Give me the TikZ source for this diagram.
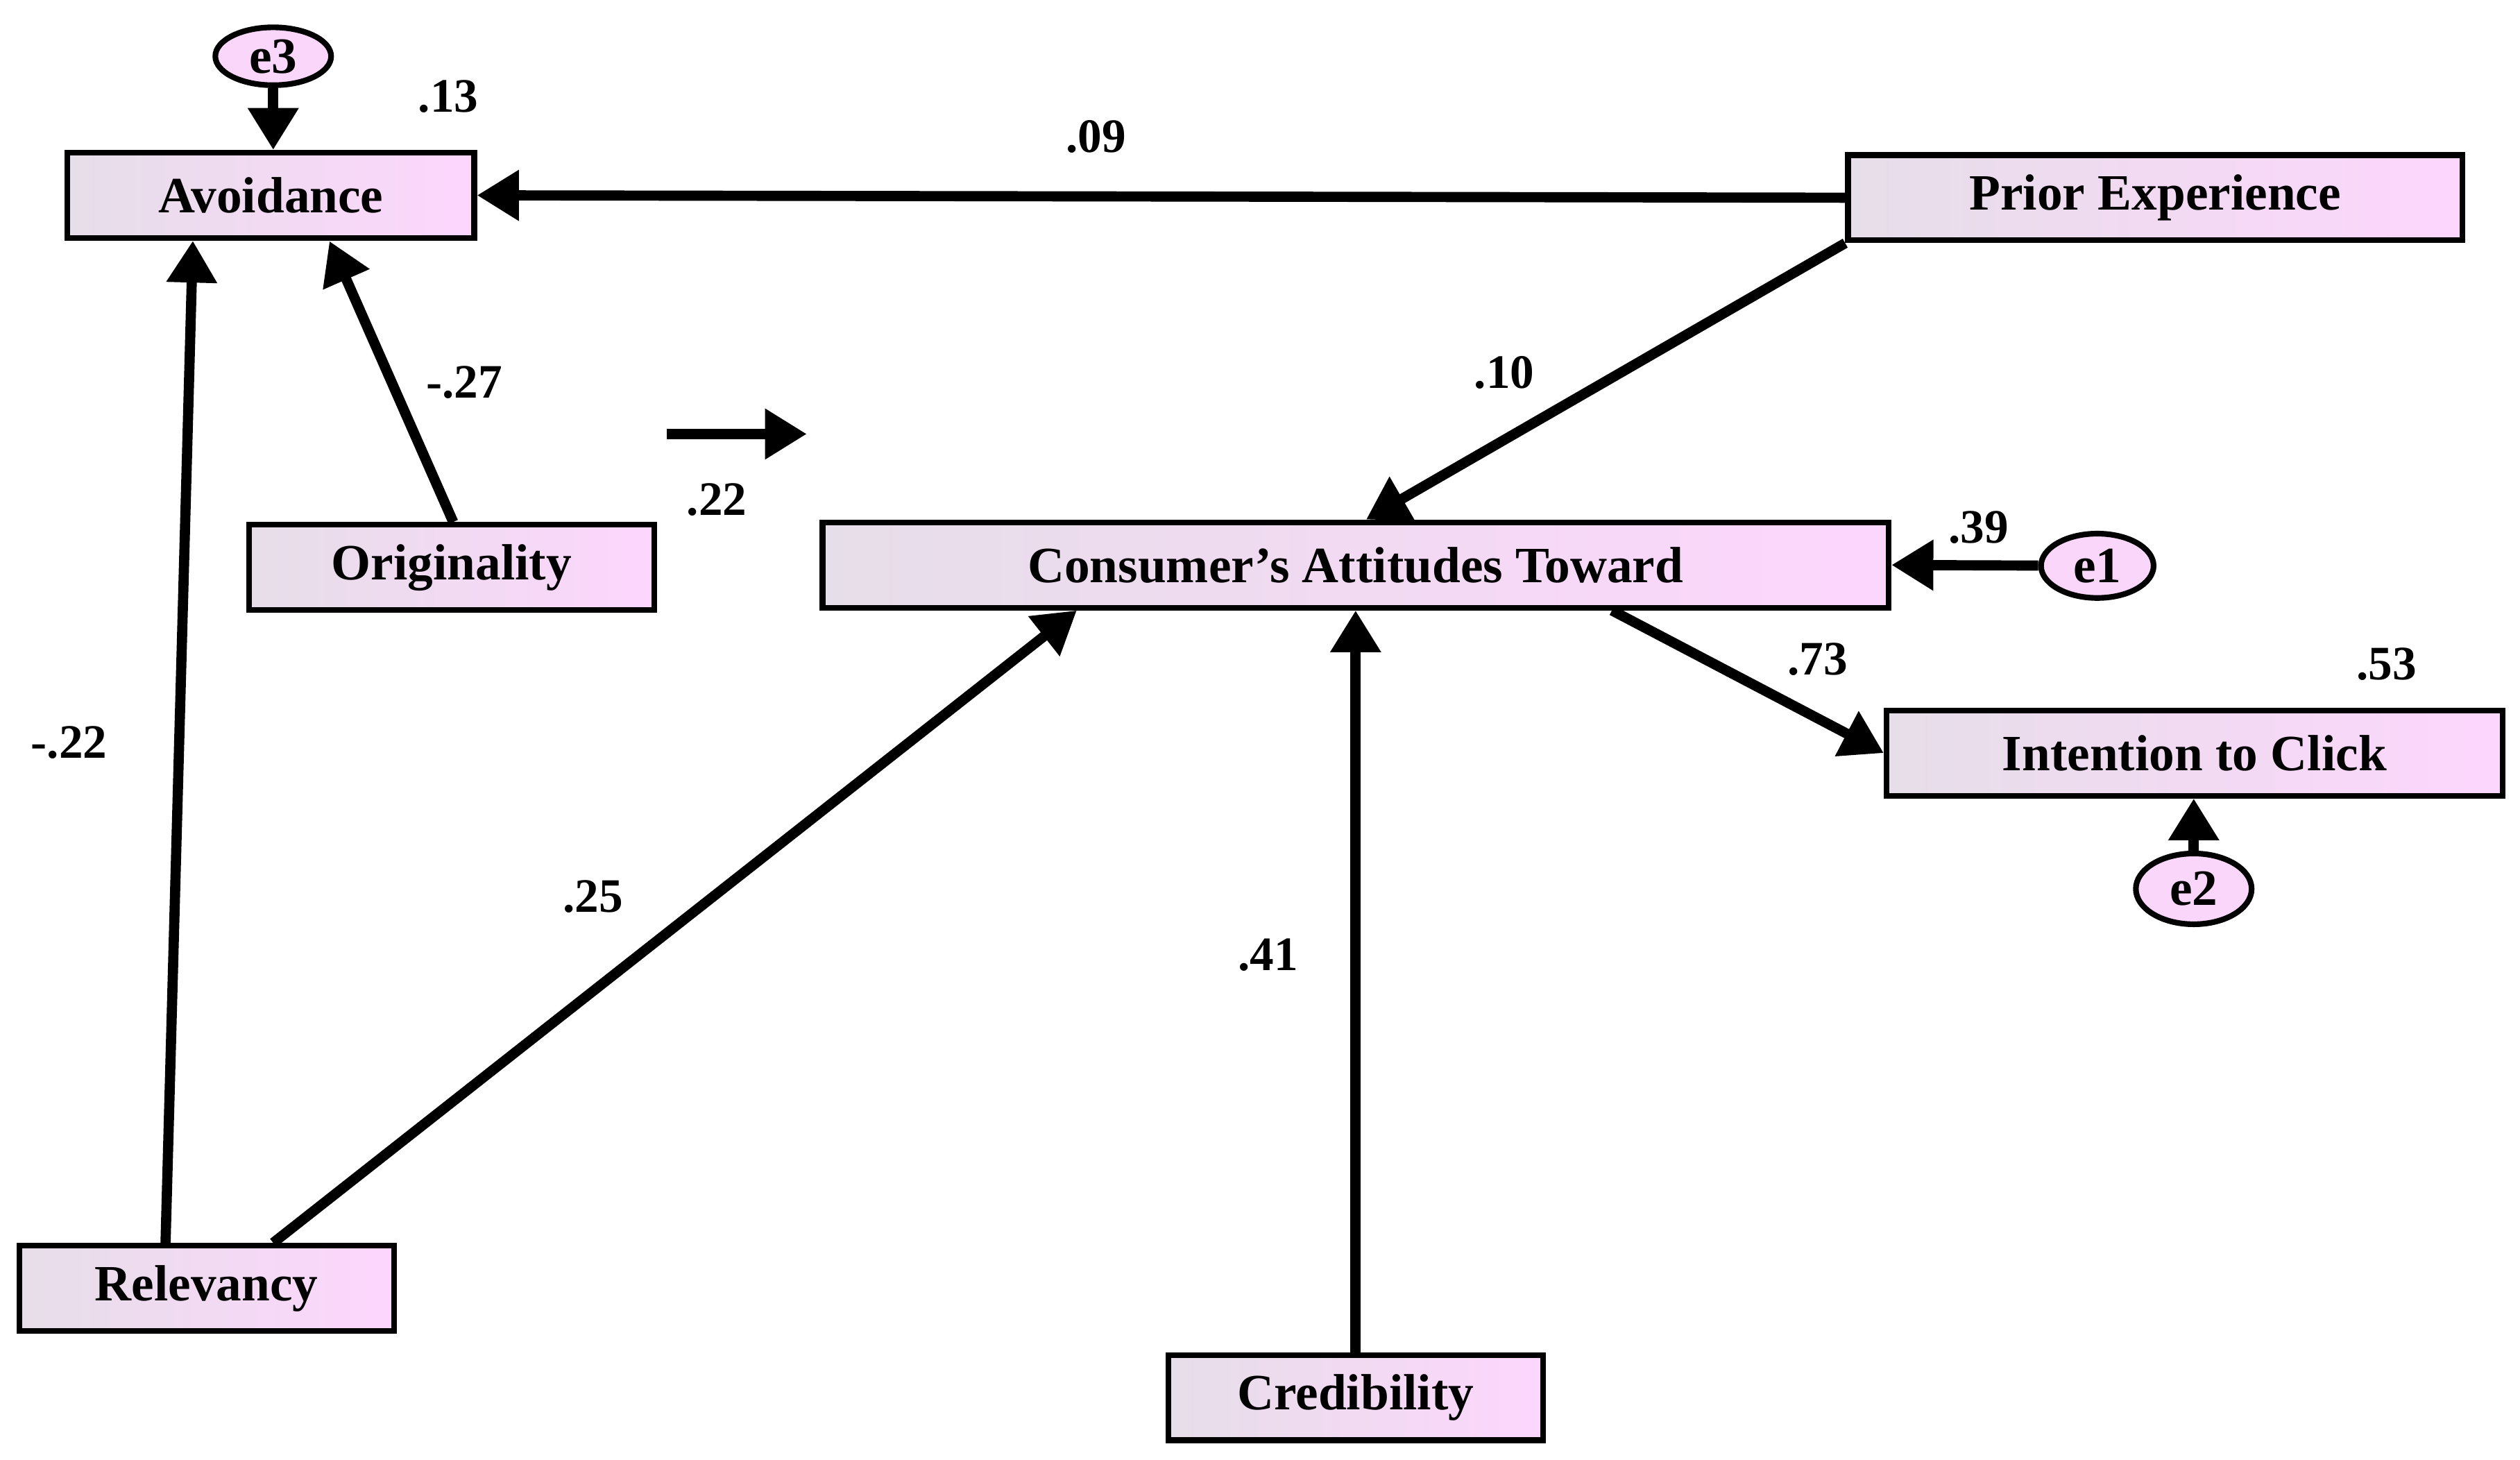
\documentclass[tikz,border=0pt]{standalone}
\usepackage{fontspec}
\setmainfont{Liberation Serif}
\usetikzlibrary{arrows.meta,shapes.geometric}

\begin{document}
\begin{tikzpicture}[x=0.01cm,y=-0.01cm,
    box/.style={draw,line width=1pt,left color={rgb,255:red,230;green,222;blue,232},
      right color={rgb,255:red,253;green,214;blue,253},font=\fontsize{9}{10}\selectfont\bfseries,
      minimum height=0.53cm,inner sep=0pt},
    err/.style={draw,ellipse,line width=1pt,fill={rgb,255:red,250;green,214;blue,250},
      font=\fontsize{9}{10}\selectfont\bfseries,inner sep=0pt},
    path/.style={line width=1.8pt,-{Triangle[length=0.26cm,width=0.3cm]}},
    coef/.style={font=\fontsize{8.5}{10}\selectfont\bfseries}]
  \useasboundingbox (0,0) rectangle (1568,908);
  % variables
  \node[box,minimum width=2.53cm] (avoid) at (168.5,121.5) {Avoidance\hspace{0.45cm}};
  \node[box,minimum width=3.82cm] (prior) at (1341,123) {Prior Experience\hspace{1cm}};
  \node[box,minimum width=2.52cm] (orig) at (281,353) {Originality\hspace{0.3cm}};
  \node[box,minimum width=6.63cm] (att) at (843.5,351.5) {Consumer’s Attitudes Toward};
  \node[box,minimum width=3.83cm] (click) at (1365.5,468.5) {Intention to Click\hspace{0.9cm}};
  \node[box,minimum width=2.33cm] (relev) at (128.5,801.5) {Relevancy\hspace{0.4cm}};
  \node[box,minimum width=2.33cm] (cred) at (843.5,869.5) {Credibility};
  % errors
  \node[err,minimum width=0.72cm,minimum height=0.36cm] (e3) at (170,35) {e3};
  \node[err,minimum width=0.7cm,minimum height=0.4cm] (e1) at (1305,352) {e1};
  \node[err,minimum width=0.72cm,minimum height=0.44cm] (e2) at (1365,553) {e2};
  % paths
  \draw[path] (prior.west) -- (avoid.east);
  \draw[path] (prior.south west) -- (att.north -| 850,0);
  \draw[path] (orig.north) ++(1,0) -- (205,150);
  \draw[path] (relev.north -| 103,0) -- (avoid.south -| 120,0);
  \draw[path] (relev.north -| 170,0) -- (att.south -| 670,0);
  \draw[path] (cred.north) -- (att.south -| cred.north);
  \draw[path] (att.south -| 1003,0) -- (click.west);
  \draw[path] (e1) -- (att.east);
  \draw[path] (e2) -- (click.south -| e2);
  \draw[path] (e3) -- (avoid.north -| e3);
  \coordinate (s1) at (415,270);
  \coordinate (s2) at (502,270);
  \draw[path] (s1) -- (s2);
  % coefficients
  \node[coef] (c1) at (279,60) {.13};
  \node[coef] (c2) at (682,85) {.09};
  \node[coef] (c3) at (289,238) {-.27};
  \node[coef] (c4) at (936,232) {.10};
  \node[coef] (c5) at (446,311) {.22};
  \node[coef] (c6) at (1231,328) {.39};
  \node[coef] (c7) at (1131,410) {.73};
  \node[coef] (c8) at (1485,413) {.53};
  \node[coef] (c9) at (43,462) {-.22};
  \node[coef] (c10) at (369,558) {.25};
  \node[coef] (c11) at (789,594) {.41};
\end{tikzpicture}
\end{document}
